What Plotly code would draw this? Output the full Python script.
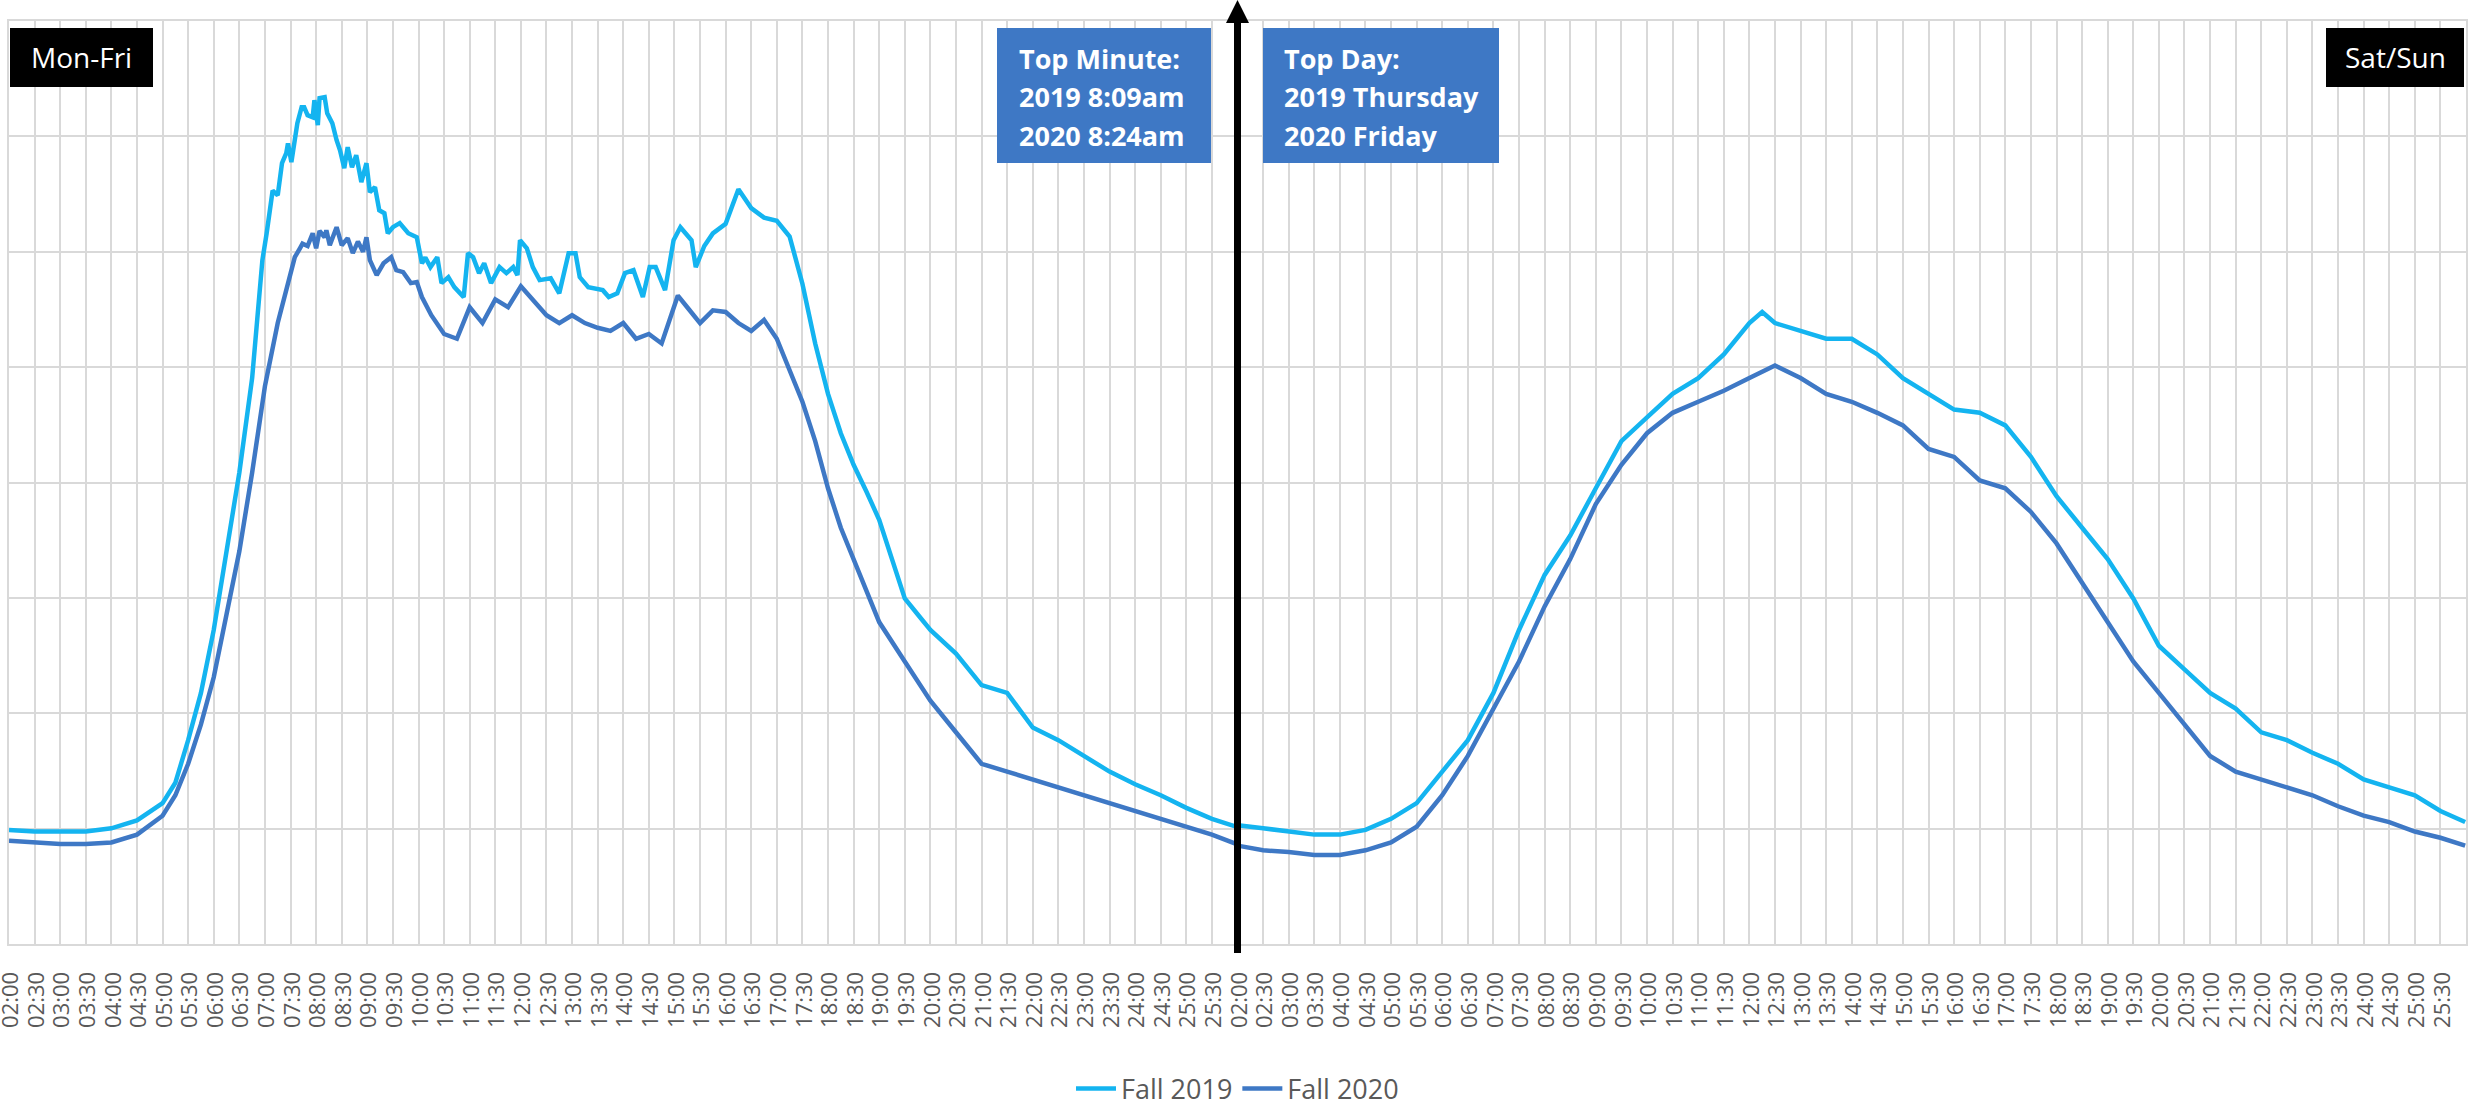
import plotly.graph_objects as go

# ---------------- data (relative volume, gridline step = 100) ----------------
WD_TIMES_2019 = ["02:00","02:30","03:00","03:30","04:00","04:30","05:00","05:15","05:30","05:45",
                 "06:00","06:15","06:30","06:45","06:57","07:02","07:08","07:09","07:15","07:20",
                 "07:25","07:27","07:31","07:35","07:38","07:43","07:46","07:50","07:56","07:58",
                 "08:02","08:04","08:10","08:13","08:19","08:24","08:28","08:33","08:37","08:42",
                 "08:47","08:53","08:59","09:03","09:09","09:14","09:20","09:24","09:30","09:38",
                 "09:48","09:58","10:04","10:08","10:14","10:22","10:27","10:35","10:42","10:53",
                 "10:58","11:04","11:11","11:17","11:25","11:35","11:43","11:51","11:56","11:59",
                 "12:07","12:14","12:22","12:35","12:45","12:56","13:04","13:09","13:19","13:36",
                 "13:43","13:53","14:02","14:12","14:23","14:31","14:38","14:49","14:59","15:07",
                 "15:20","15:25","15:35","15:45","16:00","16:15","16:30","16:45","17:00","17:15",
                 "17:30","17:45","18:00","18:15","18:30","18:45","19:00","19:15","19:30","19:45",
                 "20:00","20:30","21:00","21:30","22:00","22:30","23:00","23:30","24:00","24:30",
                 "25:00","25:30","25:59"]
WD_2019 = [98.9,97.5,97.5,97.5,100.3,107.1,122.1,139.8,176.7,217.6,
           272.2,340.4,408.6,490.5,592.7,616.0,644.7,653.0,649.0,676.8,
           685.4,694.0,677.6,699.3,711.4,725.3,725.3,718.4,716.6,731.4,
           709.7,733.1,734.0,720.0,711.4,696.7,688.0,672.4,690.6,673.3,
           683.7,660.3,676.8,651.6,656.0,636.0,633.4,616.0,621.3,624.8,
           616.0,612.6,590.0,595.0,586.7,595.3,572.8,578.0,569.3,560.7,
           598.8,595.3,581.5,590.0,572.8,586.7,581.5,586.7,579.7,610.0,
           603.0,586.7,575.4,577.0,564.0,598.8,598.8,578.0,569.3,566.7,
           560.7,564.0,581.5,584.0,560.7,586.7,586.7,566.7,610.0,621.3,
           610.0,586.7,605.0,615.9,624.2,654.1,637.8,629.6,626.9,613.2,
           572.3,520.5,476.8,442.7,415.4,392.2,367.7,333.6,299.5,285.8,
           272.2,251.7,224.4,217.6,187.6,176.7,163.0,149.4,138.5,128.9,
           118.0,108.5,101.6]

WD_TIMES_2020 = ["02:00","02:30","03:00","03:30","04:00","04:30","05:00","05:15","05:30","05:45",
                 "06:00","06:15","06:30","06:45","07:00","07:15","07:30","07:35","07:41","07:44",
                 "07:50","07:56","08:00","08:04","08:10","08:12","08:16","08:24","08:30","08:37",
                 "08:43","08:49","08:55","08:59","09:03","09:11","09:19","09:28","09:34","09:42",
                 "09:51","09:58","10:04","10:15","10:30","10:45","11:00","11:15","11:30","11:45",
                 "12:00","12:30","12:45","13:00","13:15","13:30","13:45","14:00","14:15","14:30",
                 "14:45","15:04","15:15","15:30","15:45","16:00","16:15","16:30","16:45","17:00",
                 "17:15","17:30","17:45","18:00","18:15","18:30","18:45","19:00","19:30","20:00",
                 "20:30","21:00","21:30","22:00","22:30","23:00","23:30","24:00","24:30","25:00",
                 "25:30","25:59"]
WD_2020 = [89.4,88.0,86.6,86.6,88.0,94.8,111.2,128.9,156.2,190.3,
           231.2,285.8,340.4,408.6,483.6,538.2,583.2,595.3,603.0,607.0,
           605.0,616.0,603.0,618.0,612.6,618.7,605.7,621.3,605.7,611.8,
           598.8,608.8,600.0,612.6,592.7,579.7,590.0,595.3,584.0,582.3,
           572.8,573.7,560.7,545.0,528.7,524.6,551.9,538.2,558.7,551.9,
           570.0,545.0,538.2,545.0,538.2,534.1,531.4,538.2,524.6,528.7,
           520.5,562.0,551.9,538.2,549.2,547.8,538.2,531.4,540.9,524.6,
           497.3,470.0,435.9,395.0,360.8,333.6,306.3,279.0,244.9,210.8,
           183.5,156.2,149.4,142.6,135.7,128.9,122.1,115.3,108.5,101.6,
           94.8,86.6]

WE_TIMES = ["02:00","02:30","03:00","03:30","04:00","04:30","05:00","05:30","06:00","06:30",
            "07:00","07:30","08:00","08:30","09:00","09:30","10:00","10:30","11:00","11:30",
            "12:00","12:15","12:30","13:00","13:30","14:00","14:30","15:00","15:30","16:00",
            "16:30","17:00","17:30","18:00","18:30","19:00","19:30","20:00","20:30","21:00",
            "21:30","22:00","22:30","23:00","23:30","24:00","24:30","25:00","25:30","25:59"]
WE_2019 = [103.0,100.3,97.5,94.8,94.8,98.9,108.5,122.1,149.4,176.7,
           217.6,272.2,319.9,354.0,395.0,435.9,456.4,476.8,490.5,511.0,
           538.2,547.8,538.2,531.4,524.6,524.6,511.0,490.5,476.8,463.2,
           460.4,449.5,422.2,388.1,360.8,333.6,299.5,258.5,238.1,217.6,
           204.0,183.5,176.7,165.8,156.2,142.6,135.7,128.9,115.3,105.7]
WE_2020 = [85.3,81.2,79.8,77.1,77.1,81.2,88.0,101.6,128.9,163.0,
           204.0,244.9,292.6,333.6,381.3,415.4,442.7,460.4,470.0,479.5,
           490.5,496.0,501.4,490.5,476.8,470.0,460.4,449.5,429.1,422.2,
           401.8,395.0,374.5,347.2,313.1,279.0,244.9,217.6,190.3,163.0,
           149.4,142.6,135.7,128.9,119.4,111.2,105.7,97.5,92.1,85.3]

TICK_LABELS = ["%02d:%02d" % (h, m) for h in range(2, 26) for m in (0, 30)]  # 02:00 .. 25:30
SERIES_NAMES = ["Fall 2019", "Fall 2020"]
BOX_MINUTE = ["Top Minute:", "2019 8:09am", "2020 8:24am"]
BOX_DAY = ["Top Day:", "2019 Thursday", "2020 Friday"]

# ---------------- helpers ----------------
def to_min(t, day):
    h, m = t.split(":")
    return day * 1440 + (int(h) - 2) * 60 + int(m)

x2019 = [to_min(t, 0) for t in WD_TIMES_2019] + [to_min(t, 1) for t in WE_TIMES]
y2019 = WD_2019 + WE_2019
x2020 = [to_min(t, 0) for t in WD_TIMES_2020] + [to_min(t, 1) for t in WE_TIMES]
y2020 = WD_2020 + WE_2020

tickvals = [v for v in range(0, 2880, 30)]
ticktext = TICK_LABELS + TICK_LABELS

W, H = 2469, 1111
PL, PR, PT, PB = 9, 2466, 21, 944
def px(xp):
    return (xp - PL) / (PR - PL)
def py(yp):
    return (PB - yp) / (PB - PT)

C2019 = "#14B4F0"
C2020 = "#3E78C5"
GRID = "#D9D9D9"
FONT = "Open Sans"

fig = go.Figure()
fig.add_trace(go.Scatter(x=x2019, y=y2019, mode="lines", name=SERIES_NAMES[0],
                         line=dict(color=C2019, width=4.5)))
fig.add_trace(go.Scatter(x=x2020, y=y2020, mode="lines", name=SERIES_NAMES[1],
                         line=dict(color=C2020, width=4.5)))

shapes = []
# arrow separating weekdays / weekend
shapes.append(dict(type="line", xref="x", yref="paper", x0=1440, x1=1440,
                   y0=py(953), y1=py(18), line=dict(color="black", width=7)))
ax_px = PL + (PR - PL) * 1440 / 2880
shapes.append(dict(type="path", xref="paper", yref="paper",
                   path="M %f,%f L %f,%f L %f,%f Z" % (px(ax_px - 11.5), py(23), px(ax_px + 11.5), py(23), px(ax_px), py(0)),
                   fillcolor="black", line=dict(width=0)))
# label boxes
shapes.append(dict(type="rect", xref="paper", yref="paper", x0=px(10), x1=px(153), y0=py(87), y1=py(28),
                   fillcolor="black", line=dict(width=0)))
shapes.append(dict(type="rect", xref="paper", yref="paper", x0=px(2326), x1=px(2464), y0=py(87), y1=py(28),
                   fillcolor="black", line=dict(width=0)))
shapes.append(dict(type="rect", xref="paper", yref="paper", x0=px(997), x1=px(1211), y0=py(163), y1=py(28),
                   fillcolor=C2020, line=dict(width=0)))
shapes.append(dict(type="rect", xref="paper", yref="paper", x0=px(1263), x1=px(1499), y0=py(163), y1=py(28),
                   fillcolor=C2020, line=dict(width=0)))

annotations = []
annotations.append(dict(text="Mon-Fri", x=px(81.5), y=py(57.5), xref="paper", yref="paper",
                        showarrow=False, xanchor="center", yanchor="middle",
                        font=dict(family=FONT, size=28, color="white")))
annotations.append(dict(text="Sat/Sun", x=px(2395), y=py(57.5), xref="paper", yref="paper",
                        showarrow=False, xanchor="center", yanchor="middle",
                        font=dict(family=FONT, size=28, color="white")))
for lines, xl in ((BOX_MINUTE, 1017), (BOX_DAY, 1282)):
    for txt, yc in zip(lines, (58, 96.5, 135)):
        annotations.append(dict(text="<b>%s</b>" % txt, x=px(xl), y=py(yc), xref="paper", yref="paper",
                                showarrow=False, xanchor="left", yanchor="middle",
                                font=dict(family=FONT, size=27, color="white")))

fig.update_layout(
    width=W, height=H,
    margin=dict(l=PL, r=W - PR, t=PT, b=H - PB, autoexpand=False),
    paper_bgcolor="white", plot_bgcolor="white",
    showlegend=True,
    legend=dict(orientation="h", x=0.5, xanchor="center", y=py(1089), yanchor="middle",
                font=dict(family=FONT, size=27, color="#595959"), itemwidth=40),
    shapes=shapes, annotations=annotations,
    font=dict(family=FONT),
)
fig.update_xaxes(range=[0, 2880], tickmode="array", tickvals=tickvals, ticktext=ticktext,
                 tickangle=-90, tickfont=dict(family=FONT, size=22, color="#595959"),
                 ticklabeloverflow="allow", ticklabelshift=2, automargin=False,
                 showgrid=True, gridcolor=GRID, gridwidth=2,
                 showline=True, mirror=True, linecolor=GRID, linewidth=2,
                 ticks="outside", ticklen=17, tickcolor="rgba(0,0,0,0)",
                 zeroline=False)
fig.update_yaxes(range=[0, 800], dtick=100, showticklabels=False, automargin=False,
                 showgrid=True, gridcolor=GRID, gridwidth=2,
                 showline=True, mirror=True, linecolor=GRID, linewidth=2,
                 zeroline=False, ticks="")

fig.write_html("out.html", config={"displayModeBar": False},
               post_script="document.body.style.margin='0';document.body.style.overflow='hidden';")
